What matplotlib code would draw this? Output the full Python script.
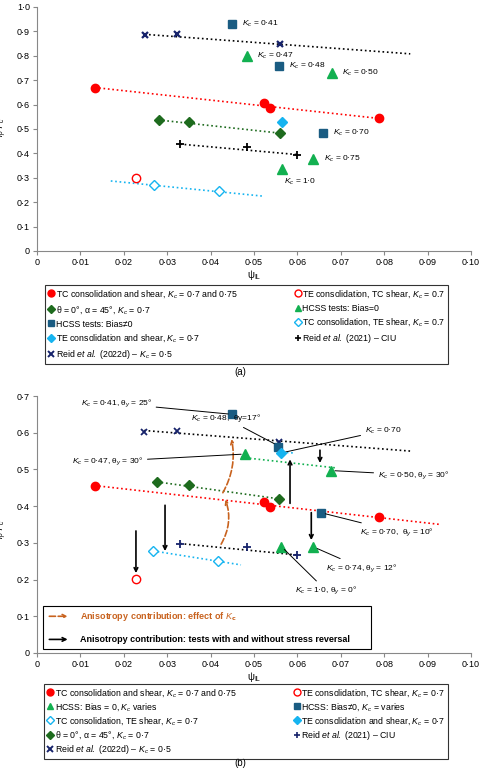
import matplotlib
matplotlib.use("Agg")
import matplotlib.pyplot as plt
from matplotlib.lines import Line2D
from matplotlib.patches import Rectangle
from matplotlib.ticker import FuncFormatter

plt.rcParams['font.family'] = ['Liberation Sans', 'DejaVu Sans']
plt.rcParams['font.size'] = 6.5
plt.rcParams['mathtext.fontset'] = 'custom'
plt.rcParams['mathtext.it'] = 'Liberation Sans:italic'
plt.rcParams['mathtext.rm'] = 'Liberation Sans'

RED = '#ff0000'; DG = '#1e6b1e'; LB = '#16b4f0'; NV = '#17236b'; SQ = '#1a5c82'; TG = '#12b050'; OR = '#c8621e'

# ---- Panel (a) data ----
a_tc_x = [0.0133, 0.0523, 0.0537, 0.0788]; a_tc_y = [0.670, 0.605, 0.588, 0.545]
a_teo_x = [0.0228]; a_teo_y = [0.298]
a_th_x = [0.028, 0.035, 0.056]; a_th_y = [0.537, 0.527, 0.483]
a_te_x = [0.0565]; a_te_y = [0.527]
a_r21_x = [0.033, 0.0485, 0.060]; a_r21_y = [0.438, 0.426, 0.395]
a_tcte_x = [0.027, 0.042]; a_tcte_y = [0.270, 0.245]
a_r22_x = [0.0248, 0.0322, 0.0559]; a_r22_y = [0.884, 0.891, 0.848]
a_sq_x = [0.045, 0.0558, 0.066]; a_sq_y = [0.931, 0.760, 0.484]; a_sq_k = ['0·41', '0·48', '0·70']
a_tr_x = [0.0485, 0.068, 0.0637, 0.0565]; a_tr_y = [0.800, 0.730, 0.377, 0.337]; a_tr_k = ['0·47', '0·50', '0·75', '1·0']

# ---- Panel (b) data ----
b_tc_x = [0.0133, 0.0523, 0.0537, 0.0788]; b_tc_y = [0.456, 0.410, 0.398, 0.370]
b_teo_x = [0.0228]; b_teo_y = [0.201]
b_th_x = [0.0277, 0.035, 0.0557]; b_th_y = [0.466, 0.457, 0.420]
b_te_x = [0.0563]; b_te_y = [0.545]
b_r21_x = [0.033, 0.0485, 0.060]; b_r21_y = [0.298, 0.289, 0.267]
b_tcte_x = [0.0268, 0.0418]; b_tcte_y = [0.278, 0.250]
b_r22_x = [0.0247, 0.0322, 0.0557]; b_r22_y = [0.601, 0.606, 0.575]
b_sq_x = [0.045, 0.0555, 0.0655]; b_sq_y = [0.650, 0.560, 0.382]
b_tr_x = [0.048, 0.0677, 0.0563, 0.0637]; b_tr_y = [0.542, 0.497, 0.290, 0.289]

fig = plt.figure(figsize=(4.8, 7.69), dpi=100)
W, H = 480, 769
def box(l, t, r, b):
    return [l / W, 1 - b / H, (r - l) / W, (b - t) / H]

axa = fig.add_axes(box(37, 7, 471, 251))
axb = fig.add_axes(box(37, 396, 471, 653))

def fmt(v, p):
    if abs(v) < 1e-9: return '0'
    return ('%.2f' % v).replace('.', '·')
def fmty(v, p):
    if abs(v) < 1e-9: return '0'
    return ('%.1f' % v).replace('.', '·')

for ax, ymax in ((axa, 1.0), (axb, 0.7)):
    ax.set_xlim(0, 0.10); ax.set_ylim(0, ymax)
    ax.set_xticks([i / 100 for i in range(11)])
    ax.set_yticks([i / 10 for i in range(int(round(ymax * 10)) + 1)])
    ax.xaxis.set_major_formatter(FuncFormatter(fmt))
    ax.yaxis.set_major_formatter(FuncFormatter(fmty))
    for s in ('top', 'right'): ax.spines[s].set_visible(False)
    ax.spines['left'].set_color('#888'); ax.spines['bottom'].set_color('#888')
    ax.tick_params(length=3, color='#888', labelsize=6.5, pad=2)
    ax.set_xlabel('ψ$_{\\mathrm{IL}}$', fontsize=7, labelpad=1)

axa.set_ylabel("$q_p/p_c'$", fontsize=7, labelpad=1)
axb.set_ylabel("$q_p/p_c'/M$", fontsize=7, labelpad=1)
axa.yaxis.set_label_coords(-0.065, 0.5)
axb.yaxis.set_label_coords(-0.065, 0.5)

def trend(ax, x0, y0, x1, y1, c):
    ax.plot([x0, x1], [y0, y1], ls=':', color=c, lw=1.2, zorder=1)

ms = 6
# panel a
trend(axa, 0.0133, 0.670, 0.079, 0.543, RED)
trend(axa, 0.028, 0.537, 0.056, 0.483, DG)
trend(axa, 0.033, 0.438, 0.060, 0.395, 'k')
trend(axa, 0.017, 0.287, 0.052, 0.225, LB)
trend(axa, 0.0248, 0.888, 0.086, 0.808, 'k')
axa.plot(a_tc_x, a_tc_y, 'o', color=RED, ms=ms, ls='none')
axa.plot(a_teo_x, a_teo_y, 'o', mfc='white', mec=RED, mew=1, ms=ms, ls='none')
axa.plot(a_th_x, a_th_y, 'D', color=DG, ms=5, ls='none')
axa.plot(a_te_x, a_te_y, 'D', color=LB, ms=5, ls='none')
axa.plot(a_r21_x, a_r21_y, '+', color='k', ms=6, mew=1.3, ls='none')
axa.plot(a_tcte_x, a_tcte_y, 'D', mfc='white', mec=LB, mew=1, ms=5, ls='none')
axa.plot(a_r22_x, a_r22_y, 'x', color=NV, ms=5, mew=1.6, ls='none')
axa.plot(a_sq_x, a_sq_y, 's', color=SQ, ms=6, ls='none')
axa.plot(a_tr_x, a_tr_y, '^', color=TG, ms=7, ls='none')
for x, y, k in zip(a_sq_x, a_sq_y, a_sq_k):
    axa.text(x + 0.0023, y, '$K_c$ = ' + k, va='center', fontsize=6)
offs = [(0.0023, 0), (0.0023, 0), (0.0025, 0), (0.0005, -0.055)]
for (x, y, k), (dx, dy) in zip(zip(a_tr_x, a_tr_y, a_tr_k), offs):
    axa.text(x + dx, y + dy, '$K_c$ = ' + k, va='center', fontsize=6)

# panel b
trend(axb, 0.0133, 0.456, 0.093, 0.350, RED)
trend(axb, 0.0277, 0.466, 0.0557, 0.420, DG)
trend(axb, 0.033, 0.298, 0.060, 0.267, 'k')
trend(axb, 0.0268, 0.278, 0.047, 0.240, LB)
trend(axb, 0.0247, 0.606, 0.086, 0.550, 'k')
trend(axb, 0.047, 0.533, 0.069, 0.504, TG)
trend(axb, 0.0555, 0.547, 0.059, 0.545, LB)

arrows = [((0.0228, 0.34), (0.0228, 0.21)), ((0.0295, 0.41), (0.0295, 0.27)),
          ((0.0583, 0.40), (0.0583, 0.535)), ((0.0632, 0.39), (0.0632, 0.30)),
          ((0.0652, 0.56), (0.0652, 0.51))]
for s, e in arrows:
    axb.annotate('', xy=e, xytext=s, arrowprops=dict(arrowstyle='->', color='k', lw=1.2), zorder=2)
axb.annotate('', xy=(0.0432, 0.425), xytext=(0.0421, 0.29),
             arrowprops=dict(arrowstyle='->', color=OR, lw=1.2, ls='--', connectionstyle='arc3,rad=0.25'))
axb.annotate('', xy=(0.0447, 0.59), xytext=(0.0425, 0.43),
             arrowprops=dict(arrowstyle='->', color=OR, lw=1.2, ls='--', connectionstyle='arc3,rad=0.2'))

axb.plot(b_tc_x, b_tc_y, 'o', color=RED, ms=ms, ls='none', zorder=3)
axb.plot(b_teo_x, b_teo_y, 'o', mfc='white', mec=RED, mew=1, ms=ms, ls='none', zorder=3)
axb.plot(b_th_x, b_th_y, 'D', color=DG, ms=5, ls='none', zorder=3)
axb.plot(b_r21_x, b_r21_y, '+', color=NV, ms=6, mew=1.3, ls='none', zorder=3)
axb.plot(b_tcte_x, b_tcte_y, 'D', mfc='white', mec=LB, mew=1, ms=5, ls='none', zorder=3)
axb.plot(b_r22_x, b_r22_y, 'x', color=NV, ms=5, mew=1.3, ls='none', zorder=3)
axb.plot(b_sq_x, b_sq_y, 's', color=SQ, ms=6, ls='none', zorder=3)
axb.plot(b_te_x, b_te_y, 'D', color=LB, ms=5, ls='none', zorder=4)
axb.plot(b_tr_x, b_tr_y, '^', color=TG, ms=7, ls='none', zorder=3)

ann = [((0.045, 0.65), (0.0265, 0.68), '$K_c$ = 0·41, θ$_y$ = 25°'),
       ((0.0555, 0.565), (0.0515, 0.64), '$K_c$ = 0·48,  θy=17°'),
       ((0.0563, 0.545), (0.0755, 0.606), '$K_c$ = 0·70'),
       ((0.048, 0.542), (0.0245, 0.522), '$K_c$ = 0·47, θ$_y$ = 30°'),
       ((0.0677, 0.497), (0.0785, 0.485), '$K_c$ = 0·50, θ$_y$ = 30°'),
       ((0.0655, 0.382), (0.0745, 0.33), '$K_c$ = 0·70,  θ$_y$ = 10°'),
       ((0.0637, 0.289), (0.0665, 0.232), '$K_c$ = 0·74, θ$_y$ = 12°'),
       ((0.0563, 0.290), (0.0595, 0.17), '$K_c$ = 1·0, θ$_y$ = 0°')]
for xy, txt, s in ann:
    left = txt[0] > xy[0]
    axb.annotate(s, xy=xy, xytext=txt, fontsize=6, va='center', ha='left' if left else 'right',
                 arrowprops=dict(arrowstyle='-', color='k', lw=0.7, shrinkA=1, shrinkB=3))

axb.add_patch(Rectangle((0.0013, 0.01), 0.0757, 0.117, fill=False, ec='k', lw=0.8, zorder=5))
axb.annotate('', xy=(0.0077, 0.1), xytext=(0.0022, 0.1),
             arrowprops=dict(arrowstyle='->', color=OR, lw=1.2, ls='--'))
axb.text(0.0098, 0.1, 'Anisotropy contribution: effect of $\\mathbf{\\mathit{K}_c}$', color=OR,
         fontweight='bold', va='center', fontsize=6.5)
axb.annotate('', xy=(0.0077, 0.037), xytext=(0.0022, 0.037),
             arrowprops=dict(arrowstyle='->', color='k', lw=1.2))
axb.text(0.0098, 0.037, 'Anisotropy contribution: tests with and without stress reversal',
         fontweight='bold', va='center', fontsize=6.5)

def H_(m, **kw):
    return Line2D([], [], marker=m, ls='none', **kw)
hTC = H_('o', color=RED, ms=5); hTEO = H_('o', mfc='white', mec=RED, ms=5)
hTH = H_('D', color=DG, ms=4); hSQ = H_('s', color=SQ, ms=5)
hTE = H_('D', color=LB, ms=4); hTR = H_('^', color=TG, ms=5)
hTCTE = H_('D', mfc='white', mec=LB, ms=4)
hR21a = H_('+', color='k', ms=5, mew=1.2); hR21b = H_('+', color=NV, ms=5, mew=1.2)
hR22 = H_('x', color=NV, ms=4, mew=1.4)

la = [hTC, hTH, hSQ, hTE, hR22, hTEO, hTR, hTCTE, hR21a]
ta = ['TC consolidation and shear, $K_c$ = 0·7 and 0·75', 'θ = 0°, α = 45°, $K_c$ = 0·7',
      'HCSS tests: Bias≠0', 'TE consolidation and shear, $K_c$ = 0·7',
      'Reid $et\\ al.$ (2022d) – $K_c$ = 0·5',
      'TE consolidation, TC shear, $K_c$ = 0.7', 'HCSS tests: Bias=0',
      'TC consolidation, TE shear, $K_c$ = 0.7', 'Reid $et\\ al.$ (2021) – CIU']
lb = [hTC, hTR, hTCTE, hTH, hR22, hTEO, hSQ, hTE, hR21b]
tb = ['TC consolidation and shear, $K_c$ = 0·7 and 0·75', 'HCSS: Bias = 0, $K_c$ varies',
      'TC consolidation, TE shear, $K_c$ = 0·7', 'θ = 0°, α = 45°, $K_c$ = 0·7',
      'Reid $et\\ al.$ (2022d) – $K_c$ = 0·5',
      'TE consolidation, TC shear, $K_c$ = 0·7', 'HCSS: Bias≠0, $K_c$ = varies',
      'TE consolidation and shear, $K_c$ = 0·7', 'Reid $et\\ al.$ (2021) – CIU']

for hs, ts, (l, t, r, b), sp in ((la, ta, (46, 290, 447, 359), 0.45), (lb, tb, (43, 690, 449, 753), 0.25)):
    lg = fig.legend(hs, ts, ncol=2, loc='center', bbox_to_anchor=((l + r) / 2 / W, 1 - (t + b) / 2 / H),
                    fontsize=6.3, frameon=True, fancybox=False, edgecolor='k', handlelength=0.8,
                    handletextpad=0.1, columnspacing=6.5, labelspacing=sp, borderpad=0.3)
    lg.get_frame().set_linewidth(0.8)

fig.text(240 / W, 1 - 372 / H, '(a)', ha='center', va='center', fontsize=7)
fig.text(240 / W, 1 - 763 / H, '(b)', ha='center', va='center', fontsize=7)

fig.savefig('out.png', dpi=100)
